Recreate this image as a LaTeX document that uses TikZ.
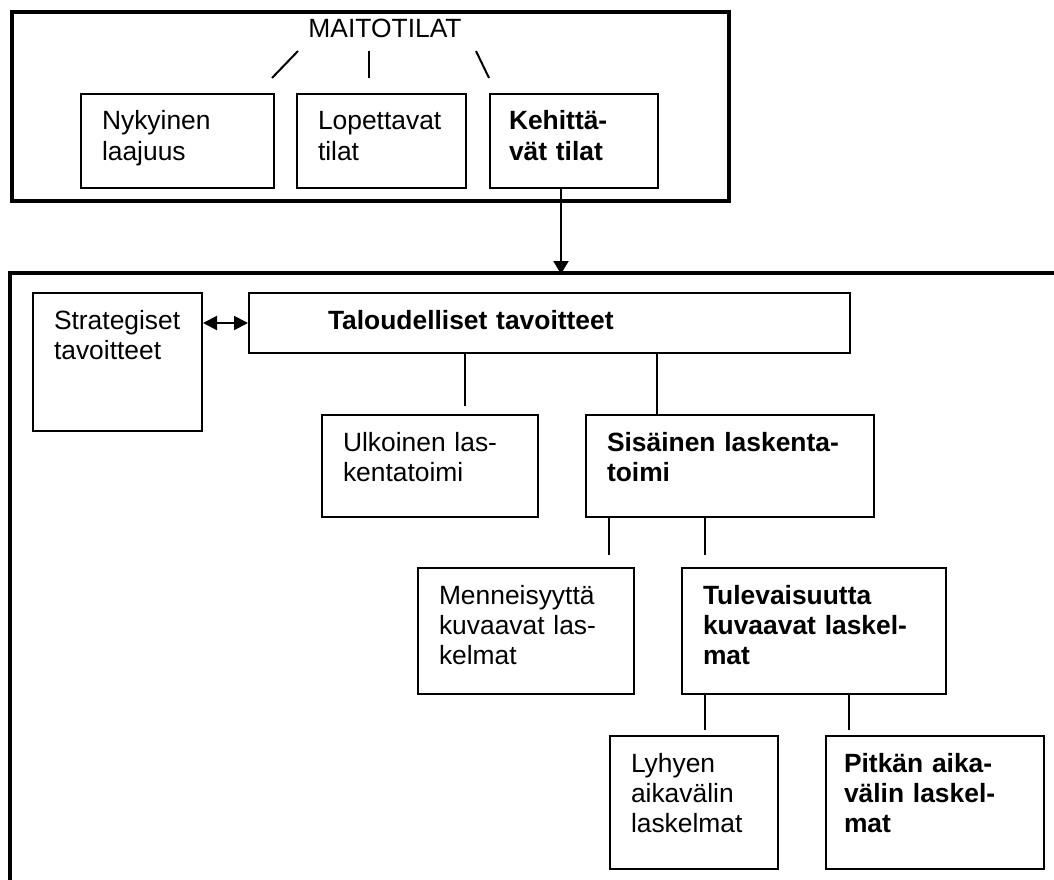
\documentclass[tikz,border=0pt]{standalone}
\usepackage{fontspec}
\setmainfont{Liberation Sans}
\usetikzlibrary{arrows.meta}

\begin{document}
\begin{tikzpicture}[x=1pt,y=-1pt,
  frame/.style={draw, line width=4pt},
  box/.style={draw, line width=2pt, anchor=north west, align=left,
    inner xsep=21pt, inner ysep=17pt, text height=19pt,
    font=\fontsize{26.4}{30}\selectfont},
  bbox/.style={box, font=\fontsize{26.4}{30}\selectfont\bfseries},
  link/.style={line width=2pt},
  tip/.style={-{Triangle[length=13pt,width=15pt]}},
  dtip/.style={{Triangle[length=14pt,width=14pt]}-{Triangle[length=14pt,width=14pt]}}
]
\useasboundingbox (0,0) rectangle (1054,880);
\clip (0,0) rectangle (1054,880);

% upper frame: dairy farms
\node[frame, anchor=north west, minimum width=717pt, minimum height=188.5pt, inner sep=0pt]
  (farms) at (10,10.5) {};
\node[font=\fontsize{26.4}{30}\selectfont, anchor=base, inner sep=0pt] (title) at (385,38) {MAITOTILAT};

\node[box, text width=151pt, text depth=41pt] (nyk) at (80,93) {Nykyinen\\laajuus};
\node[box, text width=127pt, text depth=41pt] (lop) at (296,93) {Lopettavat\\tilat};
\node[bbox, inner xsep=19pt, text width=130pt, text depth=41pt] (keh) at (489,93) {Kehittä-\\vät tilat};

\coordinate (s1a) at (272,78); \coordinate (s1b) at (298,51);
\coordinate (s2a) at (369,78); \coordinate (s2b) at (369,51);
\coordinate (s3a) at (489,78); \coordinate (s3b) at (476,51);
\draw[link] (s1a) -- (s1b);
\draw[link] (s2a) -- (s2b);
\draw[link] (s3a) -- (s3b);

% lower frame: open to the right and below
\coordinate (fr0) at (10,900);
\coordinate (fr1) at (10,273);
\coordinate (fr2) at (1070,273);
\draw[frame] (fr0) -- (fr1) -- (fr2);

\coordinate (ain) at (561,274);
\draw[link, tip] (keh.south -| ain) -- (ain);

\node[box, text width=127pt, text depth=85pt] (str) at (32,292) {Strategiset\\tavoitteet};
\node[bbox, text width=559pt, text depth=7pt] (tal) at (248,292) {\hspace*{58pt}Taloudelliset tavoitteet};
\draw[link, dtip] (str.east |- tal.west) -- (tal.west);

\node[box, text width=174pt, text depth=49pt] (ulk) at (321,414) {Ulkoinen las-\\kentatoimi};
\node[bbox, text width=246pt, text depth=49pt] (sis) at (585,414) {Sisäinen~laskenta-\\toimi};
\coordinate (c1) at (465,406);
\draw[link] (tal.south -| c1) -- (c1);
\coordinate (c2) at (657,352);
\draw[link] (c2) -- (sis.north -| c2);

\node[box, text width=174pt, text depth=73pt] (men) at (417,567) {Menneisyyttä\\kuvaavat las-\\kelmat};
\node[bbox, text width=222pt, text depth=73pt] (tul) at (681,567) {Tulevaisuutta\\kuvaavat~laskel-\\mat};
\coordinate (c3) at (609,555);
\coordinate (c4) at (705,555);
\draw[link] (sis.south -| c3) -- (c3);
\draw[link] (sis.south -| c4) -- (c4);

\node[box, text width=126pt, text depth=80pt] (lyh) at (609,735) {Lyhyen\\aikavälin\\laskelmat};
\node[bbox, inner xsep=18pt, text width=182pt, text depth=80pt] (pit) at (825,735) {Pitkän~aika-\\välin~laskel-\\mat};
\coordinate (c5) at (705,730);
\coordinate (c6) at (849,730);
\draw[link] (tul.south -| c5) -- (c5);
\draw[link] (tul.south -| c6) -- (c6);
\end{tikzpicture}
\end{document}
